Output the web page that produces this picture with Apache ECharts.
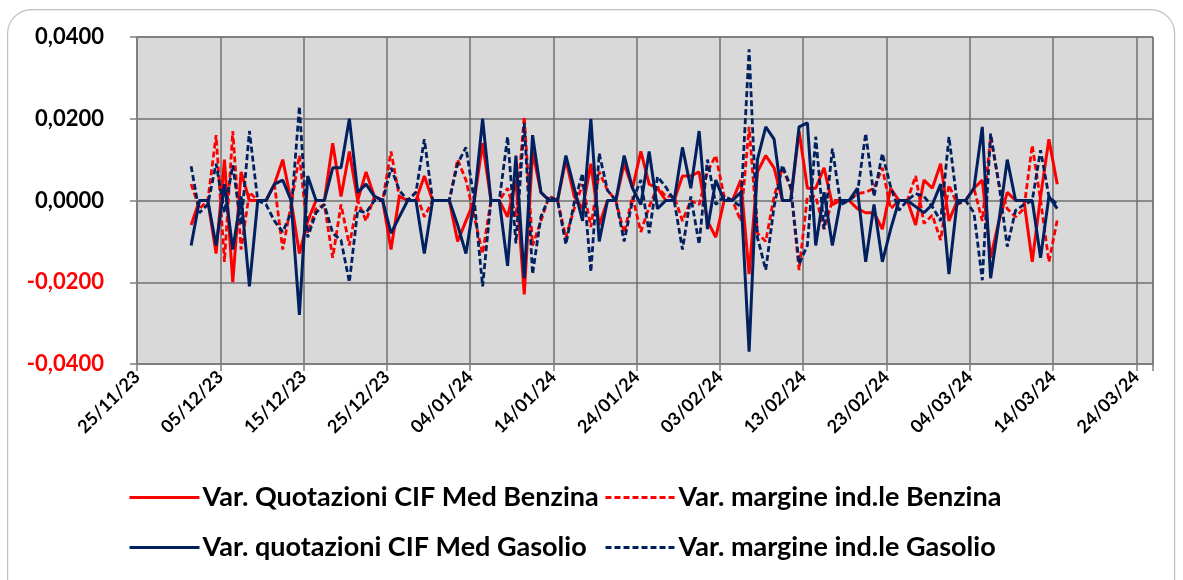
<!DOCTYPE html>
<html><head><meta charset="utf-8">
<script src="https://cdn.jsdelivr.net/npm/echarts@6/dist/echarts.min.js"></script>
<style>html,body{margin:0;padding:0;background:#fff}#c{width:1183px;height:580px}</style>
</head><body><div id="c"></div>
<script>
// x axis origin and the first / last data day
const axisStart = '2023-11-25';
const firstDate = '2023-12-01';
const dayCount = 105; // 01/12/23 .. 14/03/24, daily

const xTickLabels = ['25/11/23','05/12/23','15/12/23','25/12/23','04/01/24','14/01/24','24/01/24','03/02/24','13/02/24','23/02/24','04/03/24','14/03/24','24/03/24'];
const yTickLabels = ['-0,0400','-0,0200','0,0000','0,0200','0,0400'];

const seriesNames = [
  'Var. Quotazioni CIF Med Benzina',
  'Var. margine ind.le Benzina',
  'Var. quotazioni CIF Med Gasolio',
  'Var. margine ind.le Gasolio'
];

const cifBenzina = [
  -0.006, 0, 0, -0.013, 0.010, -0.020, 0.007, 0, 0, 0,
  0.004, 0.010, 0, -0.013, -0.005, 0, 0, 0.014, 0.001, 0.012,
  0, 0.007, 0.001, 0, -0.012, 0.001, 0, 0, 0.006, 0,
  0, 0, -0.010, -0.005, 0, 0.014, 0, 0, -0.004, 0.005,
  -0.023, 0.012, 0.002, 0, 0, 0.010, 0.001, -0.002, 0.009, -0.006,
  0, 0, 0.009, 0.003, 0.012, 0.004, 0.003, 0, 0, 0.006,
  0.006, 0.007, -0.005, -0.009, 0, 0, 0.005, -0.018, 0.007, 0.011,
  0.008, 0, 0, 0.017, 0.003, 0.003, 0.008, -0.001, 0, 0,
  -0.002, -0.003, -0.003, -0.007, 0.003, 0, 0, -0.006, 0.005, 0.003,
  0.009, -0.005, 0, 0, 0.003, 0.005, -0.014, -0.005, 0.002, 0,
  0, -0.015, 0.001, 0.015, 0.004
];
const margineBenzina = [
  0.004, -0.002, 0, 0.016, -0.015, 0.017, -0.012, 0.002, 0, 0,
  0.004, -0.012, -0.001, 0.011, -0.008, -0.002, -0.001, -0.014, -0.001, -0.011,
  0, -0.005, 0.001, 0, 0.012, 0.001, 0, 0.002, -0.004, 0,
  0, 0, 0.010, 0.005, -0.004, -0.013, 0, 0, 0.003, -0.004,
  0.0205, -0.011, -0.005, 0.001, 0, -0.009, -0.002, 0.004, -0.0065, 0.007,
  0.0025, 0, -0.008, 0.001, -0.0077, -0.0015, 0.0033, 0.001, 0.001, -0.005,
  0, -0.001, 0.007, 0.011, 0.001, 0, -0.005, 0.018, -0.008, -0.010,
  0.001, 0.008, 0.003, -0.017, 0.001, 0.001, -0.007, 0, 0, 0,
  0.0017, 0.002, 0.003, 0.008, -0.002, 0, 0, 0.006, -0.0056, -0.0036,
  -0.0097, 0.0038, -0.001, 0, 0.003, -0.005, 0.0156, 0.004, -0.002, -0.004,
  -0.002, 0.0135, 0, -0.015, -0.0048
];
const cifGasolio = [
  -0.011, 0, 0, -0.011, 0.004, -0.012, 0.001, -0.021, 0, 0,
  0.004, 0.005, 0, -0.028, 0.006, 0, 0, 0.008, 0.008, 0.020,
  0.002, 0.004, 0.001, 0, -0.008, -0.004, 0, 0, -0.013, 0,
  0, 0, -0.006, -0.013, 0, 0.020, 0, 0, -0.016, 0.011,
  -0.019, 0.016, 0.002, 0, 0, 0.011, 0.003, -0.005, 0.020, -0.010,
  0, 0, 0.011, 0.003, -0.001, 0.012, -0.002, 0, 0, 0.013,
  0.003, 0.017, -0.007, 0.005, 0, 0, 0.002, -0.037, 0.010, 0.018,
  0.015, 0, 0, 0.018, 0.019, -0.011, 0.002, -0.011, 0, 0,
  0.003, -0.015, -0.001, -0.015, -0.007, 0, 0, -0.0015, -0.003, -0.001,
  0.004, -0.018, 0, 0, 0.003, 0.018, -0.019, -0.005, 0.010, 0,
  0, 0, -0.014, 0.001, -0.002
];
const margineGasolio = [
  0.0084, -0.003, -0.001, 0.009, -0.003, 0.0086, -0.006, 0.017, 0, -0.001,
  -0.005, -0.0077, -0.003, 0.023, -0.009, -0.003, -0.001, -0.008, -0.0097, -0.020,
  -0.0024, -0.003, 0, 0, 0.008, 0.0025, 0, 0.002, 0.015, 0,
  0, 0, 0.009, 0.013, 0, -0.021, 0, 0, 0.0156, -0.0105,
  0.019, -0.018, -0.004, 0.001, 0, -0.0107, -0.0005, 0.0066, -0.0175, 0.0115,
  0.0025, 0, -0.010, 0, 0.005, -0.008, 0.0058, 0.0033, 0, -0.012,
  0.001, -0.0107, 0.010, -0.001, 0.001, 0, -0.0015, 0.037, -0.009, -0.017,
  -0.0015, 0.0086, 0.0033, -0.0155, -0.011, 0.0156, -0.007, 0.0127, -0.001, 0,
  0.0017, 0.0164, 0.001, 0.0115, 0.0033, -0.0024, 0, 0.0017, 0.001, -0.0015,
  -0.005, 0.0156, -0.0007, 0, -0.003, -0.0195, 0.0164, 0.004, -0.0113, -0.0024,
  -0.001, 0, 0.0123, 0.001, -0.001
];

const DAY = 86400000;
const t0 = Date.parse(axisStart + 'T00:00:00Z');
const tFirst = Date.parse(firstDate + 'T00:00:00Z');
// Excel date axis: each day's point sits in the middle of its day slot
const xs = Array.from({length: dayCount}, (_, i) => (tFirst - t0) / DAY + i + 0.5);
const pts = arr => arr.map((v, i) => [xs[i], v]);

const RED = '#ff0000', BLUE = '#002060';
const FONT = 'Lato';

const chart = echarts.init(document.getElementById('c'), null, {renderer: 'canvas'});

function legendAt(name, left, top) {
  return {
    data: [name], left: left, top: top, orient: 'horizontal',
    itemWidth: 70, itemHeight: 14, itemGap: 0, padding: 0,
    itemStyle: {opacity: 0, borderWidth: 0},
    lineStyle: {width: 3},
    textStyle: {fontFamily: FONT, fontWeight: 'bold', fontSize: 27, color: '#000', padding: [0, 0, 0, -2]},
    selectedMode: false
  };
}

chart.setOption({
  animation: false,
  backgroundColor: '#ffffff',
  graphic: [{
    type: 'rect', left: 7, top: 9, z: -10,
    shape: {width: 1167, height: 600, r: 24},
    style: {fill: '#ffffff', stroke: '#bfbfbf', lineWidth: 1.2}
  }],
  grid: {left: 137, top: 37, right: 30, bottom: 216, show: true, backgroundColor: '#d9d9d9', borderColor: '#7f7f7f', borderWidth: 1},
  legend: [
    legendAt(seriesNames[0], 128, 484),
    legendAt(seriesNames[1], 604, 484),
    legendAt(seriesNames[2], 128, 534),
    legendAt(seriesNames[3], 604, 534)
  ],
  xAxis: {
    type: 'value', min: 0, max: 122, interval: 10,
    axisLine: {show: true, onZero: false, lineStyle: {color: '#7f7f7f', width: 1.5}},
    axisTick: {show: true, length: 7, lineStyle: {color: '#7f7f7f', width: 1.5}},
    splitLine: {show: true, lineStyle: {color: '#6f6f6f', width: 1.5}},
    axisLabel: {
      rotate: 45, margin: 10, fontFamily: FONT, fontWeight: 'bold', fontSize: 18, color: '#000',
      formatter: v => { const k = Math.round(v / 10); return Math.abs(v - k * 10) < 1e-6 ? (xTickLabels[k] || '') : ''; }
    }
  },
  yAxis: {
    type: 'value', min: -0.04, max: 0.04, interval: 0.02,
    axisLine: {show: true, lineStyle: {color: '#7f7f7f', width: 1.5}},
    axisTick: {show: true, length: 7, lineStyle: {color: '#7f7f7f', width: 1.5}},
    splitLine: {show: true, lineStyle: {color: '#6f6f6f', width: 1.5}},
    axisLabel: {
      margin: 33, fontFamily: FONT, fontWeight: 'bold', fontSize: 22,
      formatter: v => yTickLabels[Math.round((v + 0.04) / 0.02)],
      color: v => (v < -1e-9 ? RED : '#000')
    }
  },
  series: [
    {name: seriesNames[0], type: 'line', data: pts(cifBenzina), symbol: 'none', lineStyle: {color: RED, width: 3}, itemStyle: {color: RED}, z: 2},
    {name: seriesNames[1], type: 'line', data: pts(margineBenzina), symbol: 'none', lineStyle: {color: RED, width: 2.8, type: [6, 3]}, itemStyle: {color: RED}, z: 3},
    {name: seriesNames[2], type: 'line', data: pts(cifGasolio), symbol: 'none', lineStyle: {color: BLUE, width: 3}, itemStyle: {color: BLUE}, z: 5},
    {name: seriesNames[3], type: 'line', data: pts(margineGasolio), symbol: 'none', lineStyle: {color: BLUE, width: 2.8, type: [6, 3]}, itemStyle: {color: BLUE}, z: 4}
  ]
});
</script>
</body></html>
